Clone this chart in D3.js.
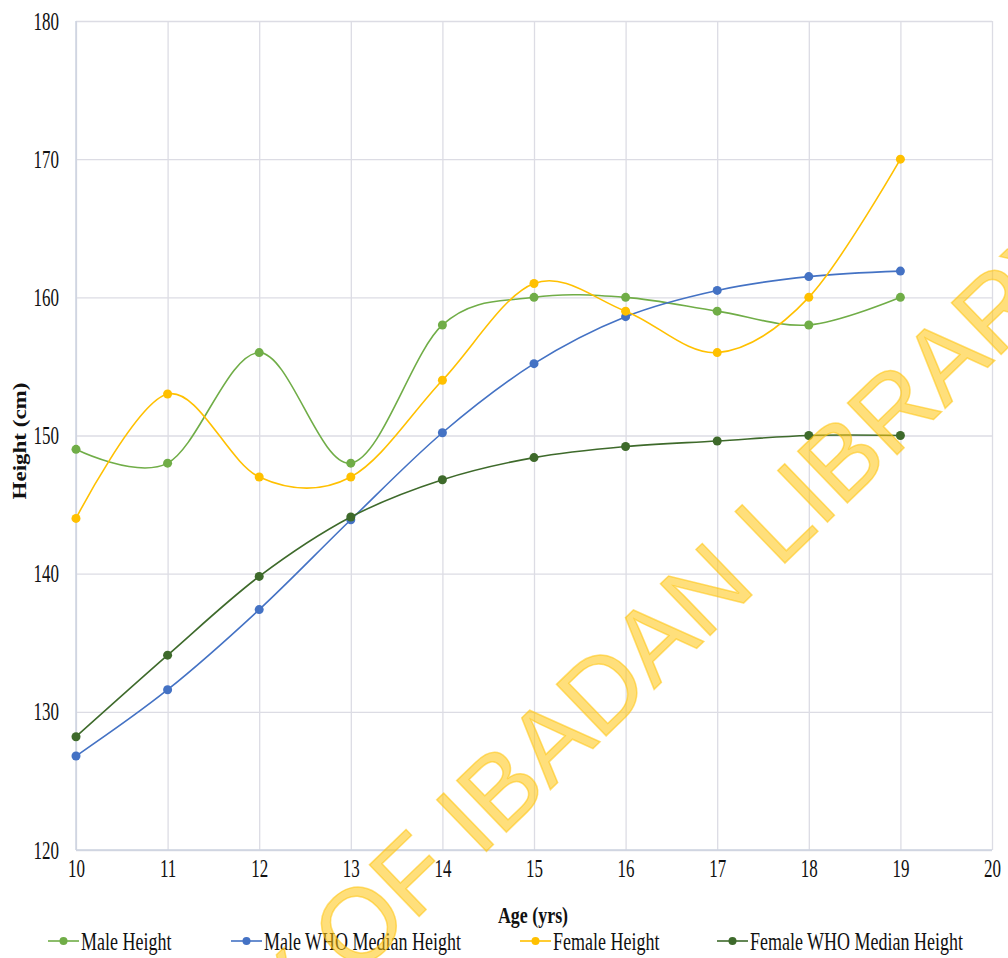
<!DOCTYPE html>
<html>
<head>
<meta charset="utf-8">
<script src="https://cdn.jsdelivr.net/npm/d3@7"></script>
<style>
  html, body { margin: 0; padding: 0; background: #ffffff; }
  svg { display: block; }
</style>
</head>
<body>
<script>
// Age groups (years) and mean heights (cm)
const ages = [10, 11, 12, 13, 14, 15, 16, 17, 18, 19];
const maleHeight = [149, 148, 156, 148, 158, 160, 160, 159, 158, 160];
const maleWhoMedian = [126.8, 131.6, 137.4, 143.9, 150.2, 155.2, 158.6, 160.5, 161.5, 161.9];
const femaleHeight = [144, 153, 147, 147, 154, 161, 159, 156, 160, 170];
const femaleWhoMedian = [128.2, 134.1, 139.8, 144.1, 146.8, 148.4, 149.2, 149.6, 150.0, 150.0];

const seriesNames = ["Male Height", "Male WHO Median Height", "Female Height", "Female WHO Median Height"];
const seriesColors = ["#70AD47", "#4472C4", "#FFC000", "#3E6A2B"];
const seriesValues = [maleHeight, maleWhoMedian, femaleHeight, femaleWhoMedian];

const xTicks = [10, 11, 12, 13, 14, 15, 16, 17, 18, 19, 20];
const yTicks = [120, 130, 140, 150, 160, 170, 180];

const xTitle = "Age (yrs)";
const yTitle = "Height (cm)";
const watermark = "UNIVERSITY OF IBADAN LIBRARY";

// ---- layout ----
const W = 1008, H = 958;
const margin = { left: 76, right: 16, top: 21, bottom: 108 };
const innerW = W - margin.left - margin.right;
const innerH = H - margin.top - margin.bottom;

const serif = "'Liberation Serif', 'Times New Roman', serif";
const gridColor = "#DCDCE4";

const svg = d3.select("body").append("svg")
  .attr("width", W).attr("height", H);

const x = d3.scaleLinear().domain([10, 20]).range([0, innerW]);
const y = d3.scaleLinear().domain([120, 180]).range([innerH, 0]);

const g = svg.append("g").attr("transform", `translate(${margin.left},${margin.top})`);

// horizontally condensed text, scaled about its own anchor
function squeeze(sel, sx) {
  sel.each(function () {
    const t = d3.select(this);
    const tx = +t.attr("x") || 0, ty = +t.attr("y") || 0;
    t.attr("transform", `translate(${tx},${ty}) scale(${sx},1) translate(${-tx},${-ty})`);
  });
}

// y axis with gridlines
const yAxis = g.append("g")
  .call(d3.axisLeft(y).tickValues(yTicks).tickSize(-innerW).tickPadding(17).tickFormat(d3.format("d")));
yAxis.select(".domain").remove();
yAxis.selectAll(".tick line").attr("stroke", gridColor).attr("stroke-width", 1.3);
yAxis.selectAll(".tick text")
  .attr("font-family", serif).attr("font-size", 25).attr("fill", "#111")
  .call(squeeze, 0.68);

// x axis with gridlines
const xAxis = g.append("g").attr("transform", `translate(0,${innerH})`)
  .call(d3.axisBottom(x).tickValues(xTicks).tickSize(-innerH).tickPadding(18).tickFormat(d3.format("d")));
xAxis.select(".domain").remove();
xAxis.selectAll(".tick line").attr("stroke", gridColor).attr("stroke-width", 1.3);
xAxis.selectAll(".tick text")
  .attr("font-family", serif).attr("font-size", 25).attr("fill", "#111")
  .attr("dy", "0.35em")
  .call(squeeze, 0.68);

// axis frame lines
g.append("line").attr("x1", 0).attr("x2", 0).attr("y1", 0).attr("y2", innerH)
  .attr("stroke", "#CDD3E0").attr("stroke-width", 1.5);
g.append("line").attr("x1", 0).attr("x2", innerW).attr("y1", innerH).attr("y2", innerH)
  .attr("stroke", "#CDD3E0").attr("stroke-width", 1.5);

// axis titles
svg.append("text")
  .attr("x", 533).attr("y", 915).attr("dy", "0.35em")
  .attr("text-anchor", "middle")
  .attr("font-family", serif).attr("font-weight", "bold").attr("font-size", 23).attr("fill", "#111")
  .text(xTitle)
  .call(squeeze, 0.78);

svg.append("text")
  .attr("transform", "translate(20,441) scale(0.78,1) rotate(-90)")
  .attr("dy", "0.35em")
  .attr("text-anchor", "middle")
  .attr("font-family", serif).attr("font-weight", "bold").attr("font-size", 23).attr("fill", "#111")
  .text(yTitle);

// smoothed series lines and markers
const line = d3.line()
  .x((d, i) => x(ages[i]))
  .y(d => y(d))
  .curve(d3.curveCatmullRom.alpha(0));

seriesValues.forEach((vals, s) => {
  const sg = g.append("g");
  sg.append("path")
    .attr("d", line(vals))
    .attr("fill", "none")
    .attr("stroke", seriesColors[s])
    .attr("stroke-width", 1.6);
  sg.selectAll("circle").data(vals).join("circle")
    .attr("cx", (d, i) => x(ages[i]))
    .attr("cy", d => y(d))
    .attr("r", 4.5)
    .attr("fill", seriesColors[s]);
});

// legend
const legendX = [48, 231, 520, 717];
const legendY = 941;
seriesNames.forEach((name, s) => {
  const lg = svg.append("g").attr("transform", `translate(${legendX[s]},${legendY})`);
  lg.append("line").attr("x1", 0).attr("x2", 31).attr("y1", 0).attr("y2", 0)
    .attr("stroke", seriesColors[s]).attr("stroke-width", 1.6);
  lg.append("circle").attr("cx", 15.5).attr("cy", 0).attr("r", 4).attr("fill", seriesColors[s]);
  lg.append("text").attr("x", 33).attr("y", 0).attr("dy", "0.35em")
    .attr("font-family", serif).attr("font-size", 25).attr("fill", "#111")
    .text(name)
    .call(squeeze, 0.72);
});

// library watermark across the chart
svg.append("text")
  .attr("transform", "translate(492,846) rotate(-44)")
  .attr("text-anchor", "middle")
  .attr("font-family", "'Liberation Sans', Arial, sans-serif")
  .attr("font-size", 104)
  .attr("fill", "#FFC50F")
  .attr("fill-opacity", 0.55)
  .attr("stroke", "#FFC50F")
  .attr("stroke-opacity", 0.55)
  .attr("stroke-width", 1.5)
  .attr("paint-order", "stroke")
  .text(watermark);
</script>
</body>
</html>
